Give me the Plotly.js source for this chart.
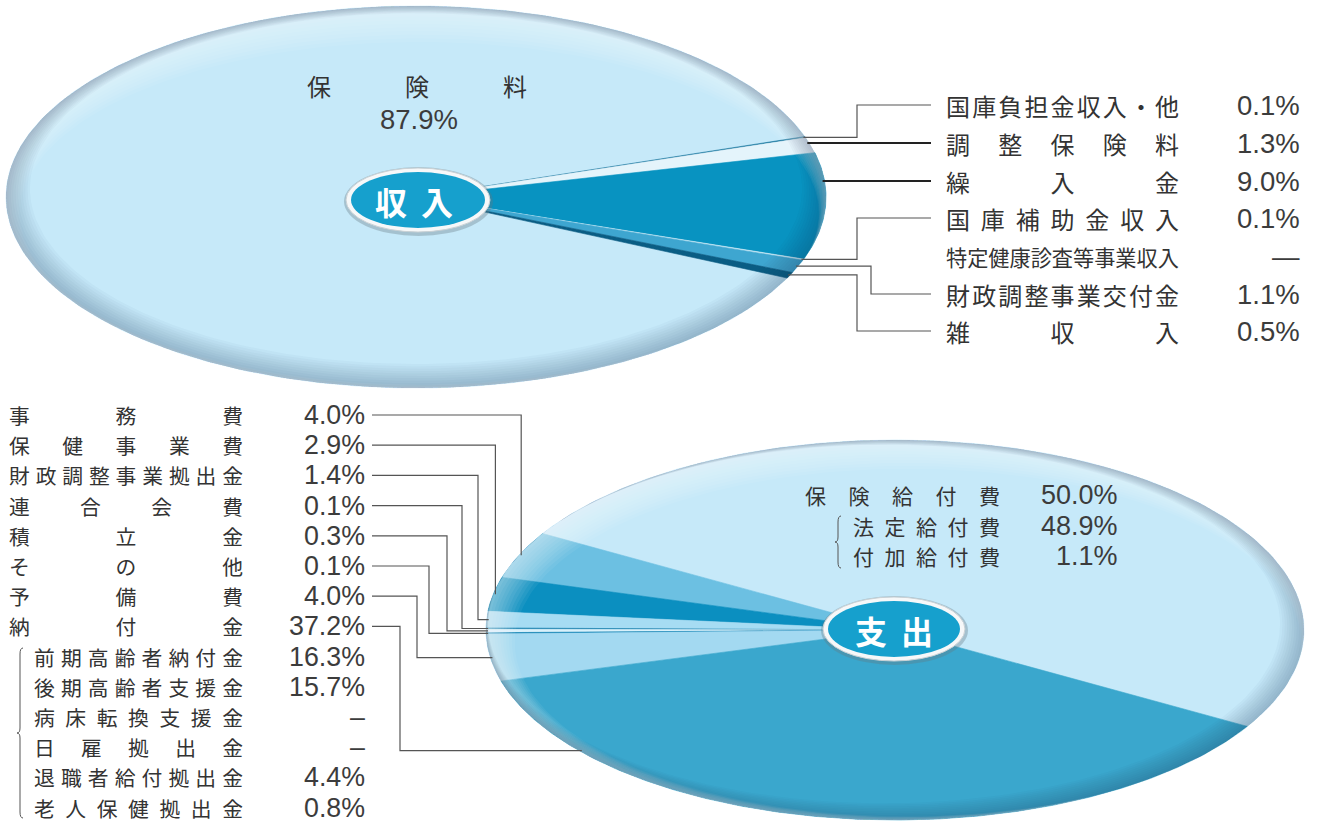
<!DOCTYPE html>
<html>
<head>
<meta charset="utf-8">
<script src="https://cdn.plot.ly/plotly-3.0.1.min.js"></script>
<style>
html,body{margin:0;padding:0;background:#ffffff;}
#chart{width:1319px;height:831px;}
</style>
</head>
<body>
<div id="chart"></div>
<script>
// ===================== DATA =====================
// 収入 (income)
const incomeLabels = ['保険料','国庫負担金収入・他','調整保険料','繰入金','国庫補助金収入','特定健康診査等事業収入','財政調整事業交付金','雑収入'];
const incomeValues = [87.9, 0.1, 1.3, 9.0, 0.1, 0, 1.1, 0.5];
const incomeColors = ['#c6e9f9','#0b6f99','#e4f4fb','#0893c1','#d2edf8','#9fd6ef','#3ea6d0','#0a5d84'];

// 支出 (expenditure)
const expenseLabels = ['保険給付費','事務費','保健事業費','財政調整事業拠出金','連合会費','積立金','その他','予備費','納付金'];
const expenseValues = [50.0, 4.0, 2.9, 1.4, 0.1, 0.3, 0.1, 4.0, 37.2];
const expenseColors = ['#c6e9f9','#6cc0e2','#0b8fc0','#a6dcf3','#0b79aa','#d9f1fb','#0b80b2','#a3d9f1','#3aa7cd'];

// 保険給付費 breakdown
const benefitSubLabels = ['法定給付費','付加給付費'];
const benefitSubValues = [48.9, 1.1];

// 納付金 breakdown (null = —)
const levySubLabels = ['前期高齢者納付金','後期高齢者支援金','病床転換支援金','日雇拠出金','退職者給付拠出金','老人保健拠出金'];
const levySubValues = [16.3, 15.7, null, null, 4.4, 0.8];

// ===================== LAYOUT CONSTANTS =====================
const TOP = {cx:416, cy:197, rx:410, ry:191};
const BOT = {cx:895, cy:630, rx:409, ry:190};
const incomeRotation = 334.9, incomeDir = -1;   // start angle of first slice, clockwise
const expenseRotation = 329.5, expenseDir = 1;  // start angle of first slice, counter-clockwise

const CJK = '"Noto Sans CJK JP", "Noto Sans CJK SC", sans-serif';
const NUM = '"Liberation Sans", Arial, sans-serif';
const TXT = '#333333';
const NUMC = '#3c3c3c';

function fmt(v, dash){ return (v === null || v === 0) ? dash : v.toFixed(1) + '%'; }

function pt(p, deg, s){
  s = (s === undefined) ? 1 : s;
  const t = deg * Math.PI / 180;
  return [p.cx + s * p.rx * Math.cos(t), p.cy - s * p.ry * Math.sin(t)];
}
function edgeXAtY(p, y){
  const k = (y - p.cy) / p.ry;
  return p.cx + p.rx * Math.sqrt(Math.max(0, 1 - k * k));
}
function sliceAngles(values, rot, dir){
  const tot = values.reduce((a, b) => a + b, 0);
  let a = rot;
  return values.map(v => {
    const s = a, e = a + dir * v / tot * 360;
    a = e;
    return {s: s, e: e, v: v};
  });
}
function sliceTrace(p, ang, color){
  const xs = [p.cx], ys = [p.cy];
  const n = Math.max(2, Math.ceil(Math.abs(ang.e - ang.s) / 0.5) + 1);
  for (let i = 0; i < n; i++){
    const q = pt(p, ang.s + (ang.e - ang.s) * i / (n - 1));
    xs.push(q[0]); ys.push(q[1]);
  }
  xs.push(p.cx); ys.push(p.cy);
  return {type:'scatter', mode:'lines', x:xs, y:ys, fill:'toself', fillcolor:color,
          line:{color:color, width:0.6}, hoverinfo:'skip', showlegend:false};
}
function ringTrace(p, inner, color){
  const xs = [], ys = [];
  const N = 240;
  for (let i = 0; i <= N; i++){ const t = i * 2 * Math.PI / N; xs.push(p.cx + p.rx * Math.cos(t)); ys.push(p.cy - p.ry * Math.sin(t)); }
  for (let i = N; i >= 0; i--){ const t = i * 2 * Math.PI / N; xs.push(inner.cx + inner.rx * Math.cos(t)); ys.push(inner.cy - inner.ry * Math.sin(t)); }
  return {type:'scatter', mode:'lines', x:xs, y:ys, fill:'toself', fillcolor:color,
          line:{width:0, color:'rgba(0,0,0,0)'}, hoverinfo:'skip', showlegend:false};
}
function shading(p, dark, light, traces){
  for (let k = 1; k <= 10; k++){
    const h = 3.6 * k;
    traces.push(ringTrace(p, {cx:p.cx + light[0]*h, cy:p.cy + light[1]*h, rx:p.rx - light[2]*h, ry:p.ry - light[3]*h}, 'rgba(255,255,255,0.06)'));
  }
  for (let k = 1; k <= 10; k++){
    const d = 2.4 * k;
    traces.push(ringTrace(p, {cx:p.cx + dark[0]*d, cy:p.cy + dark[1]*d, rx:p.rx - dark[2]*d, ry:p.ry - dark[3]*d}, 'rgba(30,60,80,0.03)'));
  }
}

const traces = [];
const shapes = [];
const annotations = [];

// ---- pies ----
const incAng = sliceAngles(incomeValues, incomeRotation, incomeDir);
incAng.forEach((a, i) => { if (incomeValues[i] > 0) traces.push(sliceTrace(TOP, a, incomeColors[i])); });
shading(TOP, [0, -0.35, 1, 0.65], [0.1, 0.45, 0.3, 0.55], traces);

const expAng = sliceAngles(expenseValues, expenseRotation, expenseDir);
expAng.forEach((a, i) => { if (expenseValues[i] > 0) traces.push(sliceTrace(BOT, a, expenseColors[i])); });
shading(BOT, [-0.45, -0.25, 0.55, 0.45], [0.35, 0.35, 0.45, 0.45], traces);

// ---- text helpers ----
function spacedText(text, ls){
  const ch = Array.from(text);
  if (ch.length < 2 || ls <= 0.05) return text;
  return '<span style="letter-spacing:' + ls.toFixed(2) + 'px">' + ch.slice(0, -1).join('') + '</span>' + ch[ch.length - 1];
}
// justified label between x0 and x1
function spread(text, x0, x1, y, maxSize){
  const n = Array.from(text).length;
  const W = x1 - x0;
  const size = Math.min(maxSize, W / n);
  const ls = n > 1 ? Math.max(0, (W - n * size) / (n - 1)) : 0;
  annotations.push({xref:'x', yref:'y', x:x0 - 2, y:y, xanchor:'left', yanchor:'middle', showarrow:false,
    text:spacedText(text, ls), font:{family:CJK, size:size, color:TXT}});
}
function num(text, xr, y, size){
  annotations.push({xref:'x', yref:'y', x:xr + 2, y:y, xanchor:'right', yanchor:'middle', showarrow:false,
    text:text, font:{family:NUM, size:size, color:NUMC}});
}
function leader(pts, color, width){
  shapes.push({type:'path', xref:'x', yref:'y', layer:'above',
    path:'M ' + pts.map(q => q[0].toFixed(1) + ',' + q[1].toFixed(1)).join(' L '),
    line:{color:color, width:width}});
}
function brace(x, y0, y1){
  const ym = (y0 + y1) / 2;
  shapes.push({type:'path', xref:'x', yref:'y', layer:'above',
    path:'M ' + (x+3) + ',' + y0 + ' Q ' + x + ',' + y0 + ' ' + x + ',' + (y0+6) +
         ' L ' + x + ',' + (ym-5) + ' Q ' + x + ',' + ym + ' ' + (x-3) + ',' + ym +
         ' Q ' + x + ',' + ym + ' ' + x + ',' + (ym+5) +
         ' L ' + x + ',' + (y1-6) + ' Q ' + x + ',' + y1 + ' ' + (x+3) + ',' + y1,
    line:{color:'#555', width:1}});
}
function badge(cx, cy, rx, ry, text, tx){
  shapes.push({type:'circle', xref:'x', yref:'y', layer:'above', x0:cx-rx-2, x1:cx+rx+3, y0:cy-ry-1, y1:cy+ry+4,
    fillcolor:'rgba(100,120,130,0.35)', line:{width:0}});
  shapes.push({type:'circle', xref:'x', yref:'y', layer:'above', x0:cx-rx, x1:cx+rx, y0:cy-ry, y1:cy+ry,
    fillcolor:'#f6f8f9', line:{color:'#c9d1d5', width:1}});
  shapes.push({type:'circle', xref:'x', yref:'y', layer:'above', x0:cx-rx+5, x1:cx+rx-5, y0:cy-ry+4, y1:cy+ry-4,
    fillcolor:'#16a0cd', line:{width:0}});
  annotations.push({xref:'x', yref:'y', x:tx, y:cy + 1, xanchor:'center', yanchor:'middle', showarrow:false,
    text:spacedText(text, 14),
    font:{family:CJK, size:32, color:'#ffffff', weight:'bold'}});
}

// ---- income labels (right list) ----
const incomeRowY = [null, 105, 143, 181, 218, 256, 294, 331];
const incomeMode = [null, 'h', 's', 's', 'h', null, 'h', 'h'];
const incomeElbow = [null, 857, null, null, 857, null, 871, 857];
for (let i = 1; i < incomeLabels.length; i++){
  const y = incomeRowY[i];
  spread(incomeLabels[i], 946, 1179, y, 24);
  num(fmt(incomeValues[i], '—'), 1300, y, 27.5);
  if (!incomeMode[i]) continue;
  if (incomeMode[i] === 's'){
    leader([[931, y], [edgeXAtY(TOP, y) - 2, y]], '#222', 2);
  } else {
    const a = incAng[i];
    const e = pt(TOP, (a.s + a.e) / 2, 0.995);
    leader([[931, y], [incomeElbow[i], y], [incomeElbow[i], e[1]], [e[0], e[1]]], '#555', 1.2);
  }
}
// 保険料 label inside pie
spread(incomeLabels[0], 307, 527, 85, 24);
num(fmt(incomeValues[0], '—'), 458, 119, 27.5);

// ---- expense labels (left list) ----
const rowY0 = 415, rowStep = 30.2;
const LEFT_CJK = 20.8, LEFT_NUM = 26.8;
for (let i = 1; i < expenseLabels.length; i++){
  const y = rowY0 + (i - 1) * rowStep;
  spread(expenseLabels[i], 9, 243, y, LEFT_CJK);
  num(fmt(expenseValues[i], '—'), 365, y, LEFT_NUM);
}
for (let j = 0; j < levySubLabels.length; j++){
  const y = rowY0 + (8 + j) * rowStep;
  spread(levySubLabels[j], 34, 243, y, LEFT_CJK);
  num(fmt(levySubValues[j], '–'), 365, y, LEFT_NUM);
}
brace(20, 648, 818);

const expenseMode = [null, 'v', 'v', 'h', 'h', 'h', 'h', 'h', 'h'];
const expenseElbow = [null, null, null, 478, 462, 447, 429, 417, 400];
const expenseFrac = [0.5, 0.5, 0.5, 0.5, 0.5, 0.5, 0.5, 0.5, 0.18];
for (let i = 1; i < expenseLabels.length; i++){
  const y = rowY0 + (i - 1) * rowStep;
  const a = expAng[i];
  const e = pt(BOT, a.s + (a.e - a.s) * expenseFrac[i], 0.995);
  if (expenseMode[i] === 'v'){
    leader([[372, y], [e[0], y], [e[0], e[1]]], '#555', 1.2);
  } else {
    leader([[372, y], [expenseElbow[i], y], [expenseElbow[i], e[1]], [e[0], e[1]]], '#555', 1.2);
  }
}

// 保険給付費 block inside pie
const benStep = 30.5;
spread(expenseLabels[0], 805, 1000, 495, 21);
num(fmt(expenseValues[0], '—'), 1118, 495, 27);
for (let j = 0; j < benefitSubLabels.length; j++){
  const y = 495 + (j + 1) * benStep;
  spread(benefitSubLabels[j], 853, 1000, y, 21);
  num(fmt(benefitSubValues[j], '—'), 1118, y, 27);
}
brace(838, 516, 568);

// ---- badges ----
badge(418, 200, 72, 32, '収入', 414);
badge(894, 629, 71, 32, '支出', 894);

const layout = {
  width:1319, height:831,
  margin:{l:0, r:0, t:0, b:0},
  paper_bgcolor:'#ffffff', plot_bgcolor:'#ffffff',
  showlegend:false,
  xaxis:{range:[0,1319], visible:false, fixedrange:true},
  yaxis:{range:[831,0], visible:false, fixedrange:true},
  shapes:shapes,
  annotations:annotations
};
Plotly.newPlot('chart', traces, layout, {staticPlot:true, displayModeBar:false});
</script>
</body>
</html>
